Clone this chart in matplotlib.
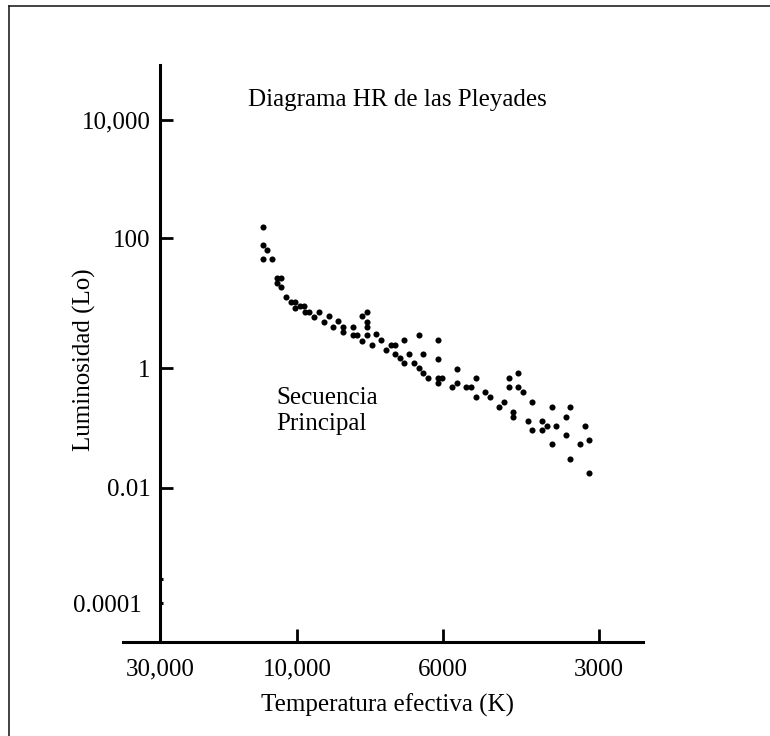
import numpy as np
import matplotlib
matplotlib.use('Agg')
import matplotlib.pyplot as plt
from matplotlib.lines import Line2D

plt.rcParams['font.family'] = ['Liberation Serif', 'DejaVu Serif']

# tick values
temp_ticks = [30000, 10000, 6000, 3000]
temp_labels = ['30,000', '10,000', '6000', '3000']
lum_ticks = [1e4, 1e2, 1, 1e-2, 1e-4]
lum_labels = ['10,000', '100', '1', '0.01', '0.0001']
lum_small_ticks = [2.6e-4]

# Pleiades stars: effective temperature (K) and luminosity (L sun)
temp = [13100, 13100, 12700, 13100, 12200, 11700, 11400, 11700, 11400, 10900,
        10500, 10150, 10150, 9900, 9760, 9720, 9590, 9420, 9260, 9100,
        8940, 8820, 8660, 8510, 8510, 8220, 7970, 7830, 7830, 7830,
        8220, 8110, 7970, 7830, 7690, 7590, 7450, 7330, 7200, 7100,
        7100, 6980, 6880, 6880, 6760, 6640, 6530, 6530, 6440, 6440,
        6320, 6110, 6110, 6110, 6110, 6020, 5640, 5640, 5760, 5420,
        5300, 5180, 5180, 4980, 4870, 4680, 4580, 4480, 4480, 4300,
        4300, 4210, 4400, 4400, 4040, 4110, 4040, 3870, 3870, 3780,
        3630, 3700, 3700, 3470, 3470, 3410, 3410, 3270, 3190, 3140,
        3140]
lum = [154, 78, 65, 47.5, 47.5, 24.3, 24.3, 20.3, 17.6, 12.4,
       10.4, 10.4, 8.4, 9.0, 9.0, 7.3, 7.3, 6.1, 7.3, 5.1,
       6.3, 4.3, 5.3, 4.3, 3.6, 4.3, 6.3, 7.3, 5.1, 4.3,
       3.2, 3.2, 2.6, 3.2, 2.26, 3.3, 2.7, 1.89, 2.26, 2.26,
       1.64, 1.43, 1.19, 2.7, 1.64, 1.19, 3.2, 1.0, 1.64, 0.83,
       0.68, 2.7, 1.38, 0.68, 0.56, 0.68, 0.96, 0.56, 0.48, 0.48,
       0.48, 0.68, 0.33, 0.40, 0.33, 0.22, 0.27, 0.68, 0.48, 0.83,
       0.48, 0.40, 0.185, 0.15, 0.27, 0.13, 0.093, 0.13, 0.093, 0.108,
       0.108, 0.22, 0.054, 0.15, 0.076, 0.22, 0.030, 0.054, 0.108, 0.063,
       0.018]

W, H = 770, 736

# schematic (non-uniform) axes of the original drawing: piecewise log scales
_tx = -np.log10([1e5, 3e4, 1e4, 6e3, 3e3, 1e3])
_tp = np.array([10, 160, 297, 443, 599, 846])
_lx = np.array([-6, -4, -2, 0, 2, 4, 6])
_lp = np.array([718, 603, 488, 368, 238, 120, 2])


def fwd_x(t):
    t = np.clip(np.asarray(t, dtype=float), 1e-9, None)
    return np.interp(-np.log10(t), _tx, _tp)


def inv_x(p):
    return 10 ** (-np.interp(p, _tp, _tx))


def fwd_y(v):
    v = np.clip(np.asarray(v, dtype=float), 1e-30, None)
    return -np.interp(np.log10(v), _lx, _lp)


def inv_y(p):
    return 10 ** np.interp(-np.asarray(p), _lp[::-1], _lx[::-1])


fig = plt.figure(figsize=(W / 100, H / 100), dpi=100)
ax = fig.add_axes([123 / W, (H - 642) / H, 520 / W, 577 / H])
ax.set_xscale('function', functions=(fwd_x, inv_x))
ax.set_yscale('function', functions=(fwd_y, inv_y))
ax.set_xlim(float(inv_x(123)), float(inv_x(643)))
ax.set_ylim(float(inv_y(-642)), float(inv_y(-65)))
ax.invert_xaxis()

ax.plot(temp, lum, 'o', color='black', ms=4.4, mew=0)

for s in ['top', 'right']:
    ax.spines[s].set_visible(False)
ax.spines['left'].set_position(('data', 30000))
ax.spines['left'].set_linewidth(2.2)
ax.spines['bottom'].set_linewidth(2.2)

ax.set_xticks(temp_ticks)
ax.set_xticklabels(temp_labels)
ax.set_xticks([], minor=True)
ax.set_yticks(lum_ticks[:-1])
ax.set_yticklabels(lum_labels[:-1])
ax.set_yticks([lum_ticks[-1]] + lum_small_ticks, minor=True)
ax.set_yticklabels([lum_labels[-1], ''], minor=True)
ax.tick_params(axis='x', which='major', direction='in', length=9.5, width=2,
               labelsize=18, pad=12)
ax.tick_params(axis='y', which='major', direction='in', length=9, width=2,
               labelsize=18, pad=7)
ax.tick_params(axis='y', which='minor', direction='in', length=2.5, width=2.2,
               labelsize=18, pad=13)
ax.set_facecolor('none')

fig.text(397 / W, 1 - 100 / H, 'Diagrama HR de las Pleyades', fontsize=18,
         ha='center', va='center')
fig.text(276 / W, 1 - 387 / H, 'Secuencia\nPrincipal', fontsize=18,
         ha='left', va='top', linespacing=1.25)
fig.text(388 / W, 1 - 705 / H, 'Temperatura efectiva (K)', fontsize=18,
         ha='center', va='center')
fig.text(84 / W, 1 - 360 / H, 'Luminosidad (Lo)', fontsize=18,
         ha='center', va='center', rotation=90)

# frame of the original figure (top and left edges only)
fig.add_artist(Line2D([9 / W, 1], [1 - 5.5 / H, 1 - 5.5 / H], color='#222222', lw=1.2))
fig.add_artist(Line2D([9 / W, 9 / W], [0, 1 - 5.5 / H], color='#222222', lw=1.2))

fig.savefig('out.png', dpi=100)
